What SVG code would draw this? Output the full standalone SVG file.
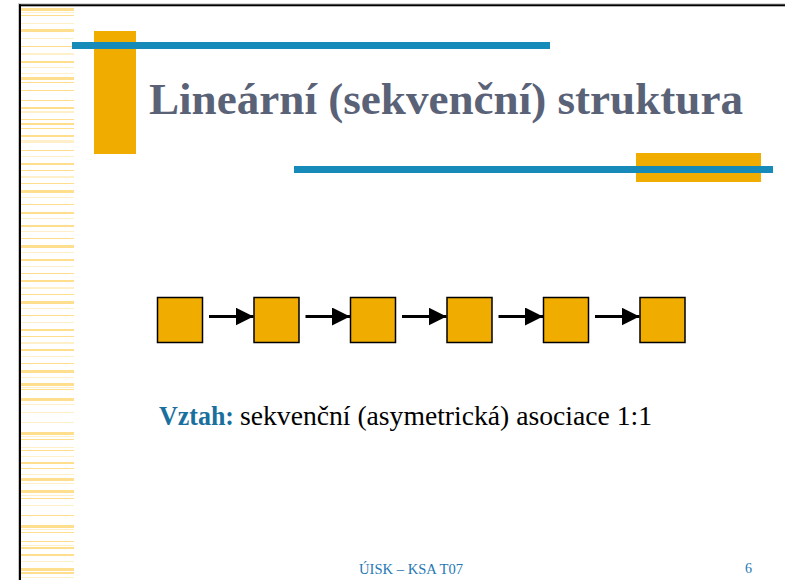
<svg xmlns="http://www.w3.org/2000/svg" width="785" height="580" viewBox="0 0 785 580">
  <style>
    .strong { fill: #ffdf8e; }
    .faint { fill: #fff0c9; }
    .box { fill: #f0ad00; stroke: #000; stroke-width: 1.5; }
    .link { stroke: #000; stroke-width: 3; fill: none; }
    .title { font-family: "Liberation Serif", "DejaVu Serif", serif; font-weight: bold; font-size: 44px; fill: #5a6277; }
    .rel { font-family: "Liberation Serif", "DejaVu Serif", serif; font-size: 27px; fill: #000; }
    .label { font-weight: bold; fill: #1a6f9e; }
    .foot { font-family: "Liberation Serif", "DejaVu Serif", serif; font-size: 14px; fill: #1f78b4; }
  </style>
  <defs>
    <marker id="head" viewBox="0 0 10 10" refX="10" refY="5" markerWidth="6" markerHeight="6" markerUnits="strokeWidth" orient="auto">
      <path d="M0,0 L10,5 L0,10 Z" fill="#000"/>
    </marker>
  </defs>

  <rect width="785" height="580" fill="#fff"/>

  <!-- left ruled margin -->
  <g id="margin">
    <rect class="strong" x="21" y="8" width="53" height="3"/>
    <rect class="faint" x="21" y="12" width="53" height="1"/>
    <rect class="strong" x="21" y="15" width="53" height="1"/>
    <rect class="faint" x="21" y="23" width="53" height="1"/>
    <rect class="strong" x="21" y="29" width="53" height="3"/>
    <rect class="faint" x="21" y="38" width="53" height="1"/>
    <rect class="strong" x="21" y="46" width="53" height="1"/>
    <rect class="faint" x="21" y="53" width="53" height="2"/>
    <rect class="strong" x="21" y="61" width="53" height="2"/>
    <rect class="faint" x="21" y="67" width="53" height="1"/>
    <rect class="faint" x="21" y="73" width="53" height="1"/>
    <rect class="strong" x="21" y="77" width="53" height="3"/>
    <rect class="strong" x="21" y="82" width="53" height="1"/>
    <rect class="strong" x="21" y="90" width="53" height="1"/>
    <rect class="strong" x="21" y="100" width="53" height="1"/>
    <rect class="strong" x="21" y="107" width="53" height="2"/>
    <rect class="faint" x="21" y="111" width="53" height="2"/>
    <rect class="strong" x="21" y="119" width="53" height="1"/>
    <rect class="strong" x="21" y="123" width="53" height="2"/>
    <rect class="strong" x="21" y="128" width="53" height="1"/>
    <rect class="strong" x="21" y="135" width="53" height="2"/>
    <rect class="faint" x="21" y="140" width="53" height="3"/>
    <rect class="strong" x="21" y="150" width="53" height="1"/>
    <rect class="faint" x="21" y="156" width="53" height="1"/>
    <rect class="strong" x="21" y="163" width="53" height="2"/>
    <rect class="strong" x="21" y="170" width="53" height="1"/>
    <rect class="faint" x="21" y="176" width="53" height="2"/>
    <rect class="strong" x="21" y="183" width="53" height="1"/>
    <rect class="strong" x="21" y="190" width="53" height="3"/>
    <rect class="faint" x="21" y="197" width="53" height="1"/>
    <rect class="strong" x="21" y="204" width="53" height="1"/>
    <rect class="strong" x="21" y="212" width="53" height="2"/>
    <rect class="faint" x="21" y="218" width="53" height="1"/>
    <rect class="strong" x="21" y="225" width="53" height="2"/>
    <rect class="faint" x="21" y="231" width="53" height="1"/>
    <rect class="strong" x="21" y="238" width="53" height="1"/>
    <rect class="strong" x="21" y="245" width="53" height="3"/>
    <rect class="faint" x="21" y="252" width="53" height="1"/>
    <rect class="strong" x="21" y="259" width="53" height="2"/>
    <rect class="faint" x="21" y="266" width="53" height="1"/>
    <rect class="strong" x="21" y="273" width="53" height="1"/>
    <rect class="strong" x="21" y="280" width="53" height="2"/>
    <rect class="faint" x="21" y="287" width="53" height="2"/>
    <rect class="strong" x="21" y="294" width="53" height="1"/>
    <rect class="strong" x="21" y="301" width="53" height="3"/>
    <rect class="faint" x="21" y="308" width="53" height="1"/>
    <rect class="strong" x="21" y="315" width="53" height="1"/>
    <rect class="faint" x="21" y="322" width="53" height="1"/>
    <rect class="strong" x="21" y="329" width="53" height="2"/>
    <rect class="strong" x="21" y="336" width="53" height="1"/>
    <rect class="faint" x="21" y="342" width="53" height="2"/>
    <rect class="strong" x="21" y="349" width="53" height="2"/>
    <rect class="faint" x="21" y="356" width="53" height="1"/>
    <rect class="strong" x="21" y="363" width="53" height="1"/>
    <rect class="strong" x="21" y="370" width="53" height="3"/>
    <rect class="faint" x="21" y="377" width="53" height="1"/>
    <rect class="strong" x="21" y="383" width="53" height="3"/>
    <rect class="faint" x="21" y="387" width="53" height="1"/>
    <rect class="strong" x="21" y="389" width="53" height="1"/>
    <rect class="strong" x="21" y="398" width="53" height="3"/>
    <rect class="faint" x="21" y="404" width="53" height="1"/>
    <rect class="faint" x="21" y="412" width="53" height="1"/>
    <rect class="faint" x="21" y="422" width="53" height="1"/>
    <rect class="strong" x="21" y="432" width="53" height="3"/>
    <rect class="faint" x="21" y="436" width="53" height="1"/>
    <rect class="strong" x="21" y="439" width="53" height="1"/>
    <rect class="faint" x="21" y="447" width="53" height="1"/>
    <rect class="strong" x="21" y="450" width="53" height="1"/>
    <rect class="faint" x="21" y="456" width="53" height="1"/>
    <rect class="strong" x="21" y="462" width="53" height="2"/>
    <rect class="strong" x="21" y="468" width="53" height="1"/>
    <rect class="faint" x="21" y="474" width="53" height="1"/>
    <rect class="strong" x="21" y="478" width="53" height="3"/>
    <rect class="faint" x="21" y="483" width="53" height="1"/>
    <rect class="strong" x="21" y="490" width="53" height="3"/>
    <rect class="faint" x="21" y="495" width="53" height="1"/>
    <rect class="strong" x="21" y="498" width="53" height="1"/>
    <rect class="faint" x="21" y="505" width="53" height="1"/>
    <rect class="strong" x="21" y="515" width="53" height="1"/>
    <rect class="strong" x="21" y="525" width="53" height="3"/>
    <rect class="faint" x="21" y="529" width="53" height="1"/>
    <rect class="strong" x="21" y="532" width="53" height="1"/>
    <rect class="strong" x="21" y="541" width="53" height="1"/>
    <rect class="faint" x="21" y="545" width="53" height="1"/>
    <rect class="strong" x="21" y="547" width="53" height="2"/>
    <rect class="strong" x="21" y="554" width="53" height="2"/>
    <rect class="faint" x="21" y="561" width="53" height="1"/>
    <rect class="strong" x="21" y="568" width="53" height="3"/>
    <rect class="strong" x="21" y="572" width="53" height="2"/>
    <rect class="faint" x="21" y="577" width="53" height="1"/>
  </g>

  <!-- slide frame -->
  <g id="frame">
    <rect x="18" y="3.3" width="767" height="1" fill="#c8c8c8"/>
    <rect x="18" y="3.3" width="1" height="577" fill="#c8c8c8"/>
    <rect x="19" y="4.3" width="766" height="2" fill="#000"/>
    <rect x="19" y="4.3" width="2" height="576" fill="#000"/>
  </g>

  <!-- title decoration -->
  <g id="title-deco">
    <rect x="94" y="31" width="42" height="123" fill="#f0ad00"/>
    <rect x="72" y="42" width="478" height="7" fill="#168bba"/>
    <rect x="636" y="153" width="125" height="29" fill="#f0ad00"/>
    <rect x="294" y="166" width="479" height="7" fill="#168bba"/>
  </g>

  <text id="title" class="title" x="149" y="114" textLength="594" lengthAdjust="spacingAndGlyphs">Lineární (sekvenční) struktura</text>

  <!-- sequence of elements -->
  <g id="n1"><rect class="box" x="157.5" y="297.5" width="45" height="45"/></g>
  <g id="n2"><rect class="box" x="254" y="297.5" width="45" height="45"/></g>
  <g id="n3"><rect class="box" x="350.5" y="297.5" width="45" height="45"/></g>
  <g id="n4"><rect class="box" x="447" y="297.5" width="45" height="45"/></g>
  <g id="n5"><rect class="box" x="543.5" y="297.5" width="45" height="45"/></g>
  <g id="n6"><rect class="box" x="640" y="297.5" width="45" height="45"/></g>

  <g id="connectors">
    <line class="link" x1="209" y1="316.5" x2="253.5" y2="316.5" marker-end="url(#head)"/>
    <line class="link" x1="305.5" y1="316.5" x2="350" y2="316.5" marker-end="url(#head)"/>
    <line class="link" x1="402" y1="316.5" x2="446.5" y2="316.5" marker-end="url(#head)"/>
    <line class="link" x1="498.5" y1="316.5" x2="543" y2="316.5" marker-end="url(#head)"/>
    <line class="link" x1="595" y1="316.5" x2="639.5" y2="316.5" marker-end="url(#head)"/>
  </g>

  <g id="relation">
    <text class="rel label" x="159" y="425" textLength="75" lengthAdjust="spacingAndGlyphs">Vztah:</text>
    <text class="rel" x="240" y="425" textLength="412" lengthAdjust="spacingAndGlyphs">sekvenční (asymetrická) asociace 1:1</text>
  </g>

  <g id="footer">
    <text class="foot" x="359" y="574" textLength="104" lengthAdjust="spacingAndGlyphs">ÚISK – KSA T07</text>
    <text class="foot" x="745" y="573">6</text>
  </g>
</svg>
